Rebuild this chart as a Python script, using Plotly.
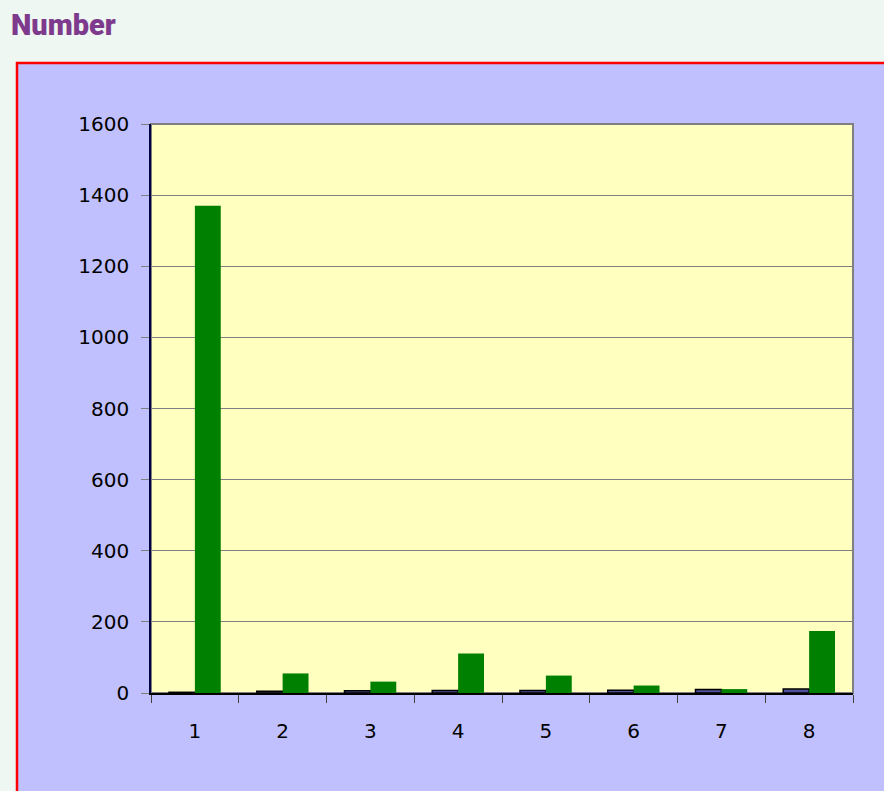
import plotly.graph_objects as go

categories = ["1", "2", "3", "4", "5", "6", "7", "8"]
series_a = [2, 5, 6, 7, 7, 8, 10, 11]
series_b = [1370, 55, 32, 111, 49, 21, 11, 174]
y_ticks = [0, 200, 400, 600, 800, 1000, 1200, 1400, 1600]

W, H = 884, 791
L, R, T, B = 151, 853, 124, 693
pw, ph = R - L, B - T

def px(x):
    return (x - L) / pw

def py(y):
    return (B - y) / ph

fig = go.Figure()
fig.add_trace(go.Bar(x=categories, y=series_a, marker=dict(color="#50509F", line=dict(color="#000000", width=1.5)), showlegend=False))
fig.add_trace(go.Bar(x=categories, y=series_b, marker=dict(color="#008000", line=dict(color="#008000", width=0)), showlegend=False))

shapes = [
    dict(type="rect", xref="paper", yref="paper", x0=px(17), x1=px(900), y0=py(820), y1=py(63),
         fillcolor="#C0C0FF", line=dict(color="#FF0000", width=2.5), layer="below"),
    dict(type="rect", xref="paper", yref="paper", x0=0, x1=1, y0=0, y1=1,
         fillcolor="#FFFFC0", line=dict(color="#808080", width=2), layer="below"),
]

fig.update_layout(
    width=W, height=H,
    margin=dict(l=L, r=W - R, t=T, b=H - B, pad=0),
    paper_bgcolor="#EEF7F1",
    plot_bgcolor="rgba(0,0,0,0)",
    barmode="group", bargap=0.41, bargroupgap=0,
    shapes=shapes,
    font=dict(family="DejaVu Sans, Verdana, sans-serif", size=20, color="#000000"),
    xaxis=dict(type="category", tickson="boundaries", ticks="outside", ticklen=8, tickcolor="#404040",
               showgrid=False, showline=True, linecolor="#000000", linewidth=1.5,
               ticklabelstandoff=19, zeroline=False),
    yaxis=dict(range=[0, 1600], tickvals=y_ticks, ticks="outside", ticklen=8, tickcolor="#808080",
               showgrid=True, gridcolor="#808080", gridwidth=1, showline=True, linecolor="#000040",
               linewidth=1.5, ticklabelstandoff=8, zeroline=False),
    annotations=[dict(text="Number", xref="paper", yref="paper", x=px(9), y=py(6),
                      xanchor="left", yanchor="top", showarrow=False,
                      font=dict(family="Roboto, sans-serif", weight=900,
                                size=29, color="#7E3A8C"))],
)

fig.write_html("out.html", config={"displayModeBar": False},
               post_script="document.body.style.margin='0';document.body.style.background='#EEF7F1';")
